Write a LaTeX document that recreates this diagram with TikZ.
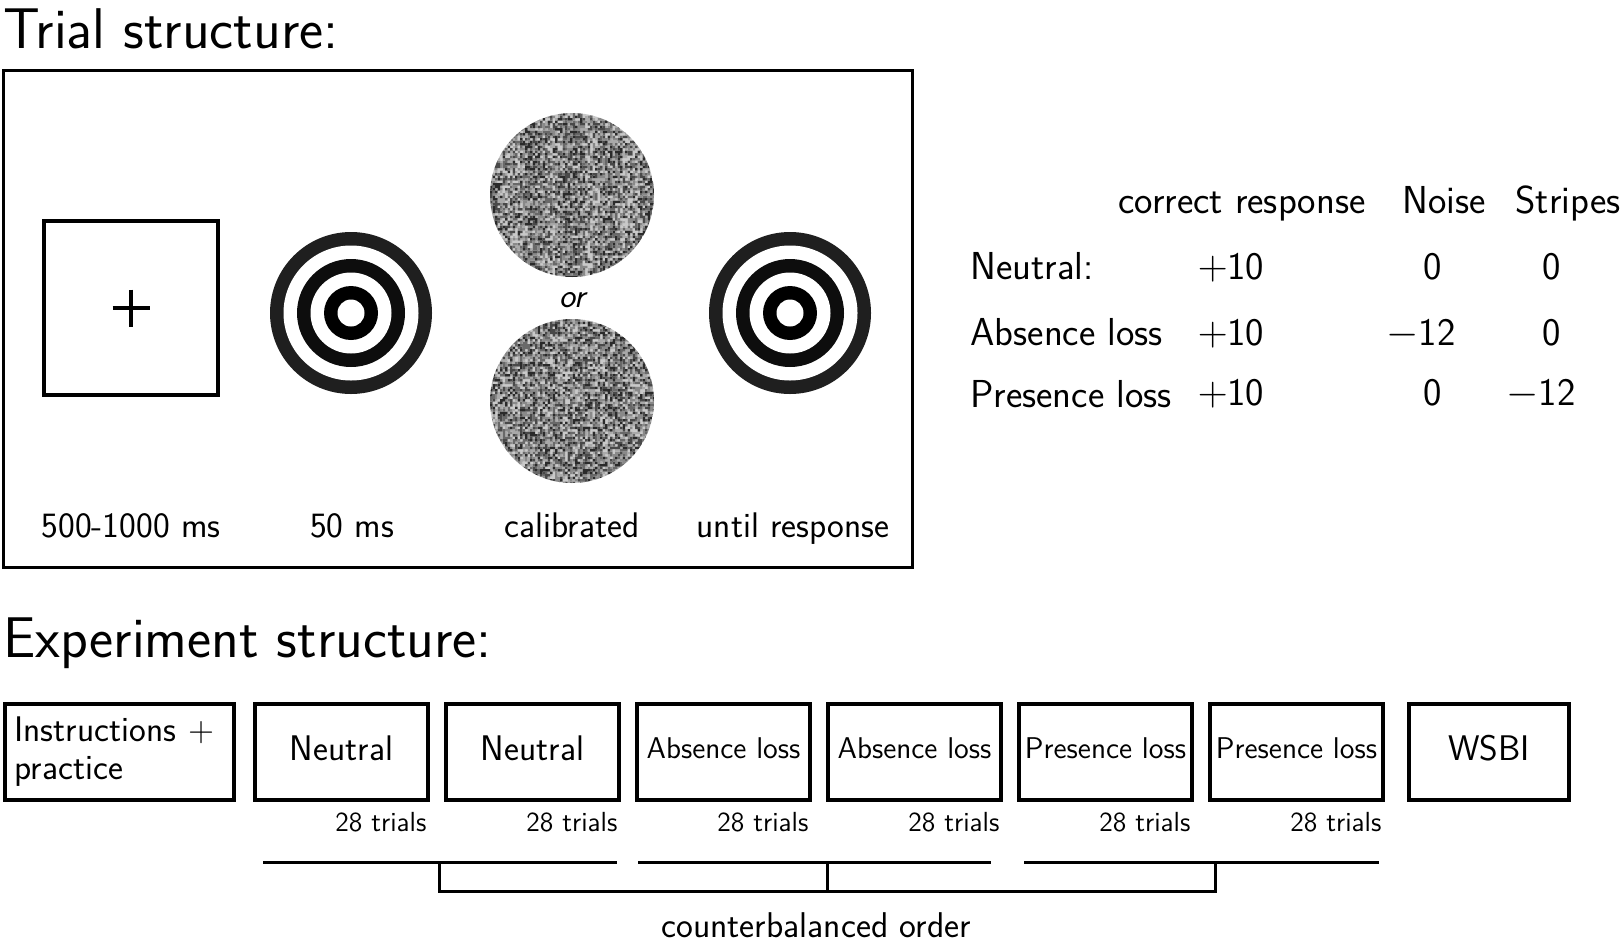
\documentclass[tikz,border=0pt]{standalone}
\usepackage{fontspec}
\renewcommand{\familydefault}{\sfdefault}
\usetikzlibrary{positioning}

% noise cells, collected per grey level
\makeatletter
\newcommand{\nzr}[2]{(#1,#2) rectangle ++(2.65,2.65)}
\newcommand{\nzadd}[3]{%
  \edef\nztmp{\noexpand\nzr{#2}{#3}}%
  \expandafter\expandafter\expandafter\g@addto@macro
    \expandafter\csname nzp#1\expandafter\endcsname\expandafter{\nztmp}}
\makeatother

\begin{document}
\begin{tikzpicture}[x=0.5pt,y=-0.5pt,line join=miter,
  ttl/.style={font=\fontsize{28.7}{34}\selectfont,anchor=base west,inner sep=0},
  lbl/.style={font=\fontsize{17.8}{21}\selectfont,anchor=base,inner sep=0},
  tab/.style={font=\fontsize{19.5}{23}\selectfont,anchor=base,inner sep=0},
  blk/.style={draw,line width=1.75pt,minimum width=86.5pt,minimum height=48pt,inner sep=1pt,text depth=4pt,font=\fontsize{17.8}{19}\selectfont},
  sm/.style={font=\fontsize{15}{18}\selectfont},
  trl/.style={font=\fontsize{13.8}{16}\selectfont,anchor=base east,inner sep=0},
  brk/.style={line width=1.5pt}]
  \useasboundingbox (0,0) rectangle (1621,948);

  % trial structure
  \node[ttl] (tTitle) at (3,48) {Trial structure:};
  \draw[line width=1.5pt] (3,70) rectangle (912,567);
  \node[draw,line width=2pt,minimum size=87pt,inner sep=0] (fix) at (131,308) {};
  \draw[line width=2pt] ([xshift=-9.25pt]fix.center) -- ++(37,0);
  \draw[line width=2pt] ([yshift=9.25pt]fix.center) -- ++(0,37);
  \foreach \cx in {351,790}{
    \fill[black!88] (\cx,313) circle (81);
    \fill[white] (\cx,313) circle (67.5);
    \fill[black!95] (\cx,313) circle (54);
    \fill[white] (\cx,313) circle (40.5);
    \fill (\cx,313) circle (27);
    \fill[white] (\cx,313) circle (13.5);
  }
  % noise patches (top one with faint stripes)
  \pgfmathsetseed{7}
  \foreach \cy/\amp in {195/0.1,401/0}{
    \foreach \k in {0,...,5}{\expandafter\gdef\csname nzp\k\endcsname{}}
    \foreach \i in {0,...,65}{
      \pgfmathsetmacro\xx{490+2.5*\i}
      \pgfmathsetmacro\sh{\amp*cos(\i*22.5)}
      \foreach \j in {0,...,65}{
        \pgfmathsetmacro\yy{\cy-82+2.5*\j}
        \pgfmathtruncatemacro\inn{((\xx+1.25-572)^2+(\yy+1.25-\cy)^2)<7056}
        \ifnum\inn=1
          \pgfmathtruncatemacro\k{max(0,min(5,6*(rnd+\sh)))}
          \nzadd{\k}{\xx}{\yy}
        \fi
      }
    }
    \begin{scope}
      \clip (572,\cy) circle (82);
      \foreach \k in {0,...,5}{
        \pgfmathsetmacro\gv{15+(\k+0.5)*12.5}
        \expandafter\let\expandafter\nzcur\csname nzp\k\endcsname
        \fill[black!\gv] \nzcur;
      }
    \end{scope}
  }
  \node[lbl,font=\itshape\fontsize{17}{20}\selectfont] (orTxt) at (572,307) {or};
  \node[lbl] (lFix) at (131,537) {500-1000 ms};
  \node[lbl] (lTgt) at (352,537) {50 ms};
  \node[lbl] (lStim) at (572,537) {calibrated};
  \node[lbl] (lResp) at (793,537) {until response};

  % payoff table
  \node[tab] (hCorr) at (1242,213) {correct response};
  \node[tab] (hNoise) at (1444,213) {Noise};
  \node[tab] (hStr) at (1568,213) {Stripes};
  \node[tab,anchor=base west] (rNeu) at (970,279) {Neutral:};
  \node[tab,anchor=base west] (rAbs) at (970,345) {Absence loss};
  \node[tab,anchor=base west] (rPres) at (970,407) {Presence loss};
  \foreach \r/\yy/\nv/\nx/\sv/\sx in {1/279/0/1433/0/1552,2/345/$-$12/1421/0/1552,3/405/0/1433/$-$12/1541}{
    \node[tab] (cr\r) at (1231,\yy) {$+$10};
    \node[tab] (nz\r) at (\nx,\yy) {\nv};
    \node[tab] (st\r) at (\sx,\yy) {\sv};
  }

  % experiment structure
  \node[ttl] (eTitle) at (3,657) {Experiment structure:};
  \node[blk,text depth=,minimum width=114.5pt,text width=105pt,inner xsep=4.75pt,align=left] (instr) at (119.5,752) {Instructions +\\practice};
  \node[blk,right=8.75pt of instr] (neu1) {Neutral};
  \node[blk,right=7.25pt of neu1] (neu2) {Neutral};
  \node[blk,sm,right=7.25pt of neu2] (abs1) {Absence loss};
  \node[blk,sm,right=7.25pt of abs1] (abs2) {Absence loss};
  \node[blk,sm,right=7.25pt of abs2] (pres1) {Presence loss};
  \node[blk,sm,right=7.25pt of pres1] (pres2) {Presence loss};
  \node[blk,minimum width=80pt,right=11.25pt of pres2] (wsbi) {WSBI};
  \foreach \b in {neu1,neu2,abs1,abs2,pres1,pres2}
    \node[trl] (n\b) at ([xshift=-1.5pt,yshift=-15pt]\b.south east) {28 trials};

  % counterbalancing bracket
  \coordinate (s1a) at (263,862); \coordinate (s1b) at (617,862);
  \coordinate (s2a) at (638,862); \coordinate (s2b) at (991,862);
  \coordinate (s3a) at (1024,862); \coordinate (s3b) at (1379,862);
  \coordinate (d1) at (439,862); \coordinate (d2) at (827,862); \coordinate (d3) at (1215,862);
  \draw[brk] (s1a) -- (s1b); \draw[brk] (s2a) -- (s2b); \draw[brk] (s3a) -- (s3b);
  \draw[brk] (d1) -- ++(0,29) -| (d3); \draw[brk] (d2) -- ++(0,29);
  \node[lbl,font=\fontsize{17.9}{21}\selectfont] (cbo) at (816,937) {counterbalanced order};
\end{tikzpicture}
\end{document}
